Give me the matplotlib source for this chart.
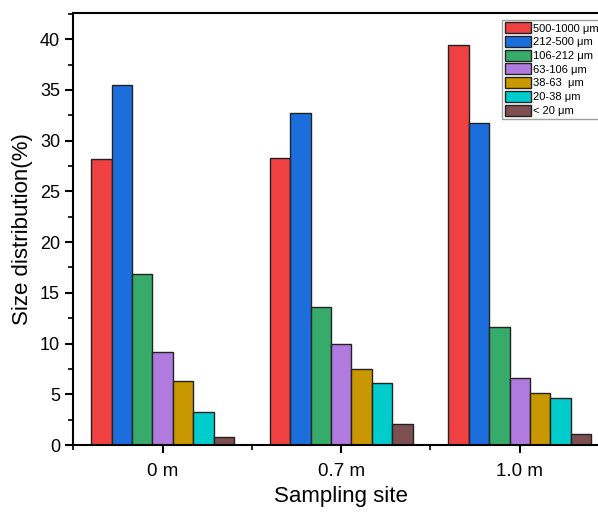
import matplotlib
matplotlib.use("Agg")
import matplotlib.pyplot as plt
import numpy as np
from matplotlib.ticker import MultipleLocator

sites = ["0 m", "0.7 m", "1.0 m"]
labels = ["500-1000 μm", "212-500 μm", "106-212 μm", "63-106 μm", "38-63  μm", "20-38 μm", "< 20 μm"]
s500_1000 = [28.15, 28.25, 39.4]
s212_500 = [35.5, 32.7, 31.7]
s106_212 = [16.9, 13.6, 11.65]
s63_106 = [9.13, 10.0, 6.57]
s38_63 = [6.34, 7.46, 5.09]
s20_38 = [3.28, 6.08, 4.6]
s_lt20 = [0.82, 2.07, 1.08]
series = [s500_1000, s212_500, s106_212, s63_106, s38_63, s20_38, s_lt20]
colors = ["#EF4141", "#1C6EDC", "#37AB6A", "#B07ADE", "#C99700", "#00CCCC", "#7D4F50"]

plt.rcParams['font.family'] = ['Liberation Sans', 'DejaVu Sans']

fig = plt.figure(figsize=(5.98, 5.12), dpi=100)
ax = fig.add_axes([73.3/598, 67/512, (609-73.3)/598, (445-13.3)/512])

x = np.arange(len(sites))
n = len(series)
w = 0.8 / n
for i, (vals, c, lab) in enumerate(zip(series, colors, labels)):
    ax.bar(x - 0.4 + w*(i+0.5), vals, width=w, color=c, edgecolor="#222222",
           linewidth=1.0, label=lab, zorder=2)

ax.set_xlim(-0.5, 2.5)
ax.set_ylim(0, 42.55)
ax.set_xticks(x)
ax.set_xticklabels(sites)
ax.set_xticks([-0.5, 0.5, 1.5, 2.5], minor=True)
ax.yaxis.set_major_locator(MultipleLocator(5))
ax.yaxis.set_minor_locator(MultipleLocator(2.5))
ax.tick_params(axis='both', which='major', direction='out', length=6, width=1.5, labelsize=13)
ax.tick_params(axis='both', which='minor', direction='out', length=3.5, width=1.2)
ax.tick_params(axis='x', which='major', pad=7, labelsize=13.5)
for sp in ax.spines.values():
    sp.set_linewidth(1.5)

ax.set_ylabel("Size distribution(%)", fontsize=16, labelpad=5)
ax.set_xlabel("Sampling site", fontsize=16, labelpad=4)

leg = ax.legend(loc='upper left', bbox_to_anchor=((502.3-73.3)/(609-73.3), (445-19.5)/(445-13.3)),
                fontsize=8, frameon=True, fancybox=False, edgecolor="#888888",
                borderpad=0.25, labelspacing=0.22, handlelength=2.3, handleheight=1.15,
                handletextpad=0.25, borderaxespad=0)
leg.get_frame().set_linewidth(1.0)

fig.savefig("out.png", dpi=100)
